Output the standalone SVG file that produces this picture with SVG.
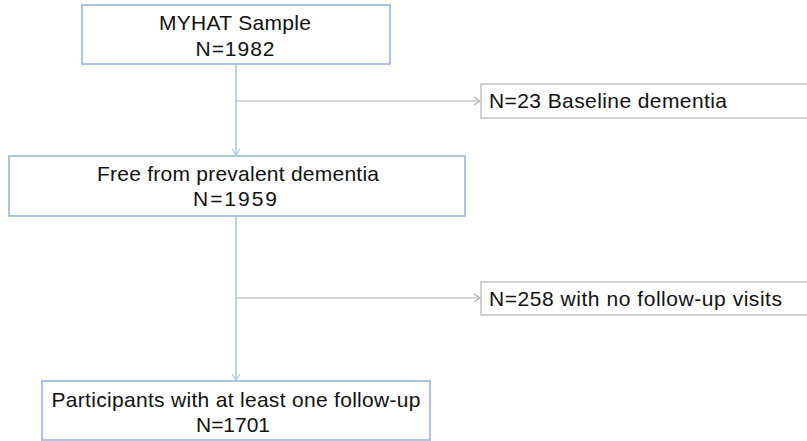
<svg xmlns="http://www.w3.org/2000/svg" width="807" height="441" viewBox="0 0 807 441">
<style>
.main{fill:#fff;stroke:#a9c6e6;stroke-width:2}
.side{fill:#fff;stroke:#b3b3b3;stroke-width:1.2}
.t{font-family:"Liberation Sans","Open Sans",sans-serif;font-size:21px;fill:#111;text-anchor:middle}
.tl{font-family:"Liberation Sans","Open Sans",sans-serif;font-size:21px;fill:#111}
.v{stroke:#a9c6e6;stroke-width:1.5;fill:none}
.h{stroke:#b0b0b0;stroke-width:1.2;fill:none}
</style>
<defs>
<marker id="ab" markerWidth="10" markerHeight="10" refX="8" refY="5" orient="auto" markerUnits="userSpaceOnUse"><path d="M2,1 L8,5 L2,9" fill="none" stroke="#a9c6e6" stroke-width="1.2"/></marker>
<marker id="ag" markerWidth="10" markerHeight="10" refX="8" refY="5" orient="auto" markerUnits="userSpaceOnUse"><path d="M2,1 L8,5 L2,9" fill="none" stroke="#b0b0b0" stroke-width="1.2"/></marker>
</defs>
<g id="connectors">
<path class="v" d="M236,64 V155" marker-end="url(#ab)"/>
<path class="h" d="M236,101 H480" marker-end="url(#ag)"/>
<path class="v" d="M236,216 V380" marker-end="url(#ab)"/>
<path class="h" d="M236,298 H480" marker-end="url(#ag)"/>
</g>
<g id="n1">
<rect class="main" x="82" y="5" width="308" height="59"/>
<text class="t" x="235" y="30" textLength="152" lengthAdjust="spacing">MYHAT Sample</text>
<text class="t" x="235" y="56" textLength="79" lengthAdjust="spacing">N=1982</text>
</g>
<g id="n2">
<rect class="side" x="481" y="84" width="330" height="34"/>
<text class="tl" x="489" y="108" textLength="238" lengthAdjust="spacing">N=23 Baseline dementia</text>
</g>
<g id="n3">
<rect class="main" x="9" y="156" width="456" height="60"/>
<text class="t" x="238" y="181" textLength="282" lengthAdjust="spacing">Free from prevalent dementia</text>
<text class="t" x="235" y="206" textLength="84" lengthAdjust="spacing">N=1959</text>
</g>
<g id="n4">
<rect class="side" x="481" y="282" width="330" height="33"/>
<text class="tl" x="489" y="306" textLength="293" lengthAdjust="spacing">N=258 with no follow-up visits</text>
</g>
<g id="n5">
<rect class="main" x="42" y="381" width="388" height="59"/>
<text class="t" x="236" y="407" textLength="369" lengthAdjust="spacing">Participants with at least one follow-up</text>
<text class="t" x="233" y="432" textLength="74" lengthAdjust="spacing">N=1701</text>
</g>
</svg>
